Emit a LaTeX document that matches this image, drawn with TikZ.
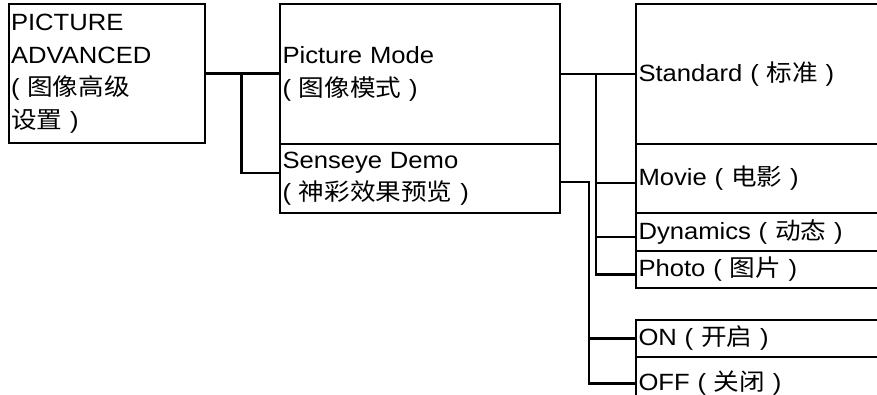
\documentclass[tikz,border=0pt]{standalone}
\usepackage{fontspec}
\setmainfont{Liberation Sans}[FakeStretch=1.09]
\newfontfamily\cjk{Noto Sans CJK SC}[FakeStretch=1.09]
\usetikzlibrary{calc}
\begin{document}
\begin{tikzpicture}[x=1pt,y=-1pt,
  box/.style={draw=black, line width=2pt, rectangle, inner xsep=2.5pt, inner ysep=0pt,
    align=left, anchor=center, font=\fontsize{23.5}{32.5}\selectfont},
  conn/.style={draw=black, line width=2.8pt}]
\useasboundingbox (0,0) rectangle (877,394);
\clip (0,0) rectangle (877,394);
% left column
\node[box, minimum width=196.5pt, minimum height=139pt, text width=191.5pt] (adv) at (106.75,73.5)
  {PICTURE\\ADVANCED\\( {\cjk 图像高级}\\{\cjk 设置} )};
% middle column
\node[box, minimum width=280pt, minimum height=140pt, text width=275pt] (pm) at (420,74)
  {Picture Mode\\( {\cjk 图像模式} )};
\node[box, minimum width=280pt, minimum height=69pt, text width=275pt] (sd) at (420,178.5)
  {Senseye Demo\\( {\cjk 神彩效果预览} )};
% right column
\node[box, minimum width=274pt, minimum height=140pt, text width=269pt] (std) at (773,74)
  {Standard ( {\cjk 标准} )};
\node[box, minimum width=274pt, minimum height=69pt, text width=269pt] (mov) at (773,178.5)
  {Movie ( {\cjk 电影} )};
\node[box, minimum width=274pt, minimum height=38pt, text width=269pt] (dyn) at (773,232)
  {Dynamics ( {\cjk 动态} )};
\node[box, minimum width=274pt, minimum height=37pt, text width=269pt] (pho) at (773,269.5)
  {Photo ( {\cjk 图片} )};
\node[box, minimum width=274pt, minimum height=37pt, text width=269pt] (on) at (773,338.5)
  {ON ( {\cjk 开启} )};
\node[box, minimum width=274pt, minimum height=53pt, text width=269pt] (off) at (773,383.5)
  {OFF ( {\cjk 关闭} )};
% connectors
\coordinate (j1) at (241.5,73.5);
\coordinate (j2) at (596,74);
\coordinate (j3) at (589,182);
\draw[conn] (adv.east) -- (adv.east -| pm.west);
\draw[conn] (j1) |- ($(sd.west)+(0,-5.5)$);
\draw[conn] (pm.east) -- (std.west);
\draw[conn] (j2) |- ($(mov.west)+(0,4.5)$);
\draw[conn] (j2) |- ($(dyn.west)+(0,5)$);
\draw[conn] (j2) |- ($(pho.west)+(0,5)$);
\draw[conn] ($(sd.east)+(0,3.5)$) -- (j3) |- (off.west);
\draw[conn] (j3) |- (on.west);
\end{tikzpicture}
\end{document}
